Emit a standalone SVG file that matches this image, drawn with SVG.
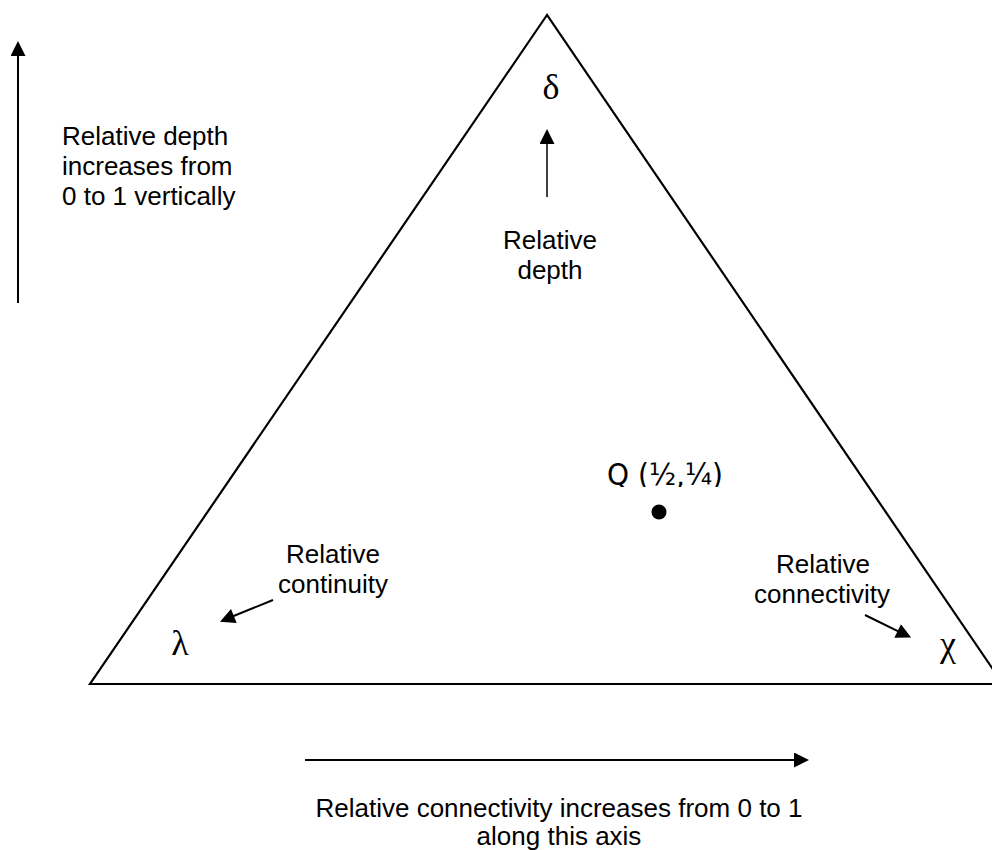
<svg xmlns="http://www.w3.org/2000/svg" width="992" height="850" viewBox="0 0 992 850">
<defs>
<style>
.lbl{font-family:"Liberation Sans",Arial,sans-serif;font-size:26px;fill:#000}
.greek{font-family:"Liberation Serif","Times New Roman",serif;font-size:36px;fill:#000}
.q{font-family:"DejaVu Sans",sans-serif;font-size:31px;fill:#000}
.ax{stroke:#000;stroke-width:2;fill:none}
.sm{stroke:#000;stroke-width:1.5;fill:none}
</style>
<marker id="ah" viewBox="0 0 10 10" refX="5" refY="5" markerUnits="userSpaceOnUse" markerWidth="17" markerHeight="15" orient="auto">
<path d="M0,0 L10,5 L0,10 z" fill="#000"/>
</marker>
<clipPath id="qclip"><rect x="560" y="440" width="200" height="47"/></clipPath>
</defs>
<rect width="992" height="850" fill="#fff"/>
<g id="triangle">
<polygon points="547,15 90,684 1003,684" fill="none" stroke="#000" stroke-width="2.2"/>
</g>
<g id="connectors">
<line class="ax" x1="18" y1="303" x2="18" y2="48.5" marker-end="url(#ah)"/>
<line class="ax" x1="305" y1="760" x2="801.5" y2="760" marker-end="url(#ah)"/>
<line class="sm" x1="547" y1="197" x2="547" y2="136.5" marker-end="url(#ah)"/>
<line class="ax" x1="273" y1="600" x2="226.9" y2="618.8" marker-end="url(#ah)"/>
<line class="ax" x1="865" y1="615" x2="904.4" y2="634.3" marker-end="url(#ah)"/>
</g>
<g id="depth-axis-label">
<text class="lbl" x="62" y="145">Relative depth</text>
<text class="lbl" x="62" y="175">increases from</text>
<text class="lbl" x="62" y="205">0 to 1 vertically</text>
</g>
<g id="delta">
<text class="greek" x="551" y="99" text-anchor="middle">δ</text>
</g>
<g id="relative-depth">
<text class="lbl" x="550" y="249" text-anchor="middle">Relative</text>
<text class="lbl" x="550" y="279" text-anchor="middle">depth</text>
</g>
<g id="lambda">
<text class="greek" x="180" y="655" text-anchor="middle">λ</text>
</g>
<g id="relative-continuity">
<text class="lbl" x="333" y="563" text-anchor="middle">Relative</text>
<text class="lbl" x="333" y="593" text-anchor="middle">continuity</text>
</g>
<g id="chi">
<text class="greek" x="948" y="656" text-anchor="middle">χ</text>
</g>
<g id="relative-connectivity">
<text class="lbl" x="823" y="573" text-anchor="middle">Relative</text>
<text class="lbl" x="822" y="603" text-anchor="middle">connectivity</text>
</g>
<g id="point-q">
<text class="q" x="607" y="485" textLength="116" lengthAdjust="spacingAndGlyphs" clip-path="url(#qclip)">Q (½,¼)</text>
<circle cx="659" cy="512" r="7.5" fill="#000"/>
</g>
<g id="connectivity-axis-label">
<text class="lbl" x="559" y="817" text-anchor="middle">Relative connectivity increases from 0 to 1</text>
<text class="lbl" x="559" y="845" text-anchor="middle">along this axis</text>
</g>
</svg>
